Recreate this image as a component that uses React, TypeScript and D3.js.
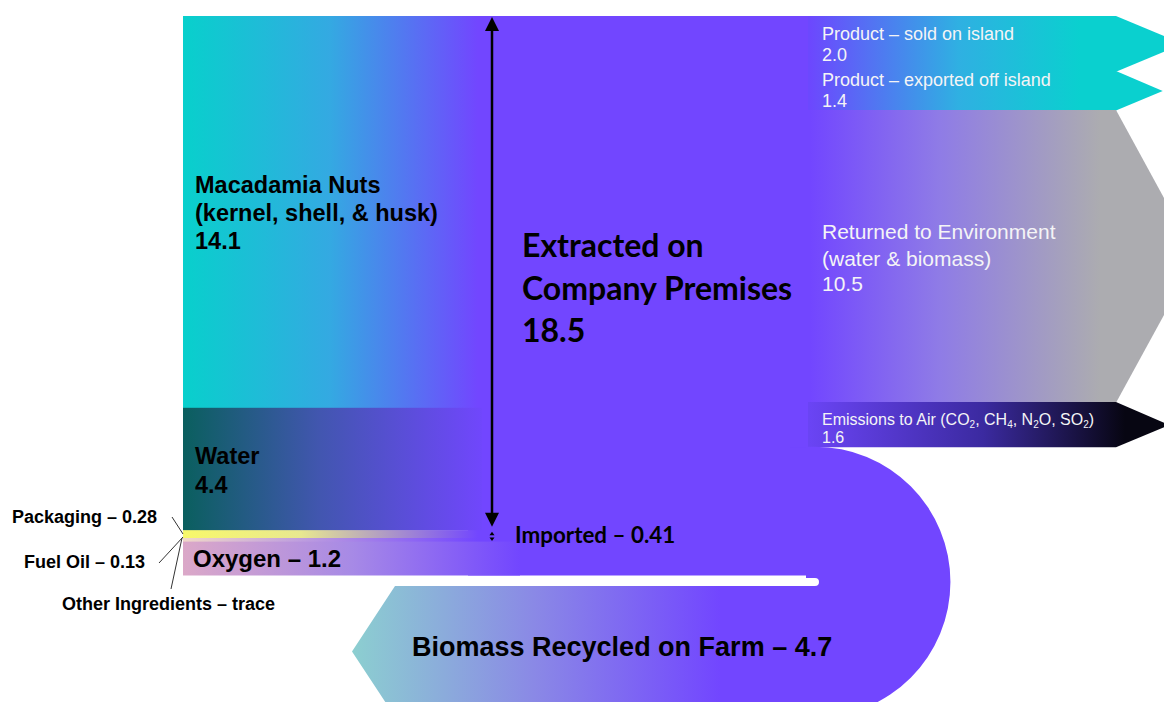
import * as d3 from 'd3';

// input flows (million lb / yr)
const inputLabels = ['Macadamia Nuts', 'Water', 'Packaging', 'Fuel Oil', 'Oxygen'];
const inputValues = [14.1, 4.4, 0.28, 0.13, 1.2];
const extractedTotal = 18.5;
const importedTotal = 0.41;

// output flows
const outputLabels = [
  'Product – sold on island',
  'Product – exported off island',
  'Returned to Environment',
  'Emissions to Air',
  'Biomass Recycled on Farm',
];
const outputValues = [2.0, 1.4, 10.5, 1.6, 4.7];

const W = 1164;
const H = 702;
const PURPLE = '#7246ff';

const inputX0 = 183;
const bodyX0 = 478;
const outX0 = 810;
const shoulderX = 1116;
const gap = 8;

function App() {
  const total = d3.sum(outputValues);
  const y = d3.scaleLinear().domain([0, total]).range([16, 578]);

  const inStarts = d3.cumsum([0, ...inputValues]);
  const outStarts = d3.cumsum([0, ...outputValues]);
  const inBands = inputValues.map((v, i) => ({ label: inputLabels[i], y0: y(inStarts[i]), y1: y(inStarts[i] + v) }));
  const outBands = outputValues.map((v, i) => ({ label: outputLabels[i], y0: y(outStarts[i]), y1: y(outStarts[i] + v) }));

  const arrowPath = (b: { y0: number; y1: number }, i: number) => {
    const h = b.y1 - b.y0;
    const tip = shoulderX + Math.min((h / 2) * 2.4, 80);
    const top = i === 0 ? b.y0 : b.y0 - 0.6;
    const p = d3.path();
    p.moveTo(outX0 - 2, top);
    p.lineTo(shoulderX, top);
    p.lineTo(tip, (b.y0 + b.y1) / 2);
    p.lineTo(shoulderX, b.y1);
    p.lineTo(outX0 - 2, b.y1);
    p.closePath();
    return p.toString();
  };

  // biomass loop
  const bio = outBands[4];
  const bandW = bio.y1 - bio.y0;
  const cy = bio.y1 + gap / 2;
  const cx = 815;
  const rOut = bandW + gap / 2;
  const retTop = cy + gap / 2;
  const retBot = retTop + bandW;
  const bp = d3.path();
  bp.moveTo(outX0 - 4, bio.y0 - 0.6);
  bp.lineTo(cx, bio.y0 - 0.6);
  bp.arc(cx, cy, rOut + 0.6, -Math.PI / 2, Math.PI / 2, false);
  bp.lineTo(395, retBot);
  bp.lineTo(352, (retTop + retBot) / 2);
  bp.lineTo(395, retTop);
  bp.lineTo(cx, retTop);
  bp.arc(cx, cy, gap / 2, Math.PI / 2, -Math.PI / 2, true);
  bp.lineTo(outX0 - 4, bio.y1);
  bp.closePath();

  const arrowX = 492;
  const extTop = y(0);
  const extBot = y(extractedTotal);
  const impBot = y(extractedTotal + importedTotal);

  const inFills = ['url(#gMac)', 'url(#gWater)', 'url(#gPack)', 'url(#gFuel)', 'url(#gOxy)'];
  const outFills = ['url(#gProd)', 'url(#gProd)', 'url(#gRet)', 'url(#gEmi)'];

  const leftFont = '"Liberation Sans", Arial, sans-serif';
  const calFont = 'Lato, "Open Sans", sans-serif';

  return (
    <svg width={W} height={H} style={{ position: 'absolute', left: 0, top: 0, background: '#fff' }}>
      <defs>
        <linearGradient id="gMac" gradientUnits="userSpaceOnUse" x1={inputX0} x2={bodyX0} y1={0} y2={0}>
          <stop offset="0" stopColor="#08d0cc" />
          <stop offset="0.5" stopColor="#34a9e2" />
          <stop offset="1" stopColor={PURPLE} />
        </linearGradient>
        <linearGradient id="gWater" gradientUnits="userSpaceOnUse" x1={inputX0} x2={bodyX0 + 10} y1={0} y2={0}>
          <stop offset="0" stopColor="#0a5f5e" />
          <stop offset="0.45" stopColor="#4256b0" />
          <stop offset="1" stopColor={PURPLE} />
        </linearGradient>
        <linearGradient id="gPack" gradientUnits="userSpaceOnUse" x1={inputX0} x2={bodyX0} y1={0} y2={0}>
          <stop offset="0" stopColor="#f8f86a" />
          <stop offset="0.4" stopColor="#e8e890" />
          <stop offset="1" stopColor={PURPLE} />
        </linearGradient>
        <linearGradient id="gFuel" gradientUnits="userSpaceOnUse" x1={inputX0} x2={bodyX0} y1={0} y2={0}>
          <stop offset="0" stopColor="#f0d8c8" />
          <stop offset="1" stopColor={PURPLE} />
        </linearGradient>
        <linearGradient id="gOxy" gradientUnits="userSpaceOnUse" x1={inputX0} x2={520} y1={0} y2={0}>
          <stop offset="0" stopColor="#dba8c8" />
          <stop offset="0.5" stopColor="#a78ae6" />
          <stop offset="1" stopColor={PURPLE} />
        </linearGradient>
        <linearGradient id="gProd" gradientUnits="userSpaceOnUse" x1={outX0} x2={1080} y1={0} y2={0}>
          <stop offset="0" stopColor="#6c48fe" />
          <stop offset="0.55" stopColor="#2fb0e2" />
          <stop offset="1" stopColor="#0ad0cf" />
        </linearGradient>
        <linearGradient id="gRet" gradientUnits="userSpaceOnUse" x1={outX0} x2={1100} y1={0} y2={0}>
          <stop offset="0" stopColor={PURPLE} />
          <stop offset="0.45" stopColor="#8f7ce6" />
          <stop offset="1" stopColor="#acacb0" />
        </linearGradient>
        <linearGradient id="gEmi" gradientUnits="userSpaceOnUse" x1={outX0} x2={1125} y1={0} y2={0}>
          <stop offset="0" stopColor="#6a44f4" />
          <stop offset="0.55" stopColor="#3b2aa0" />
          <stop offset="1" stopColor="#070612" />
        </linearGradient>
        <linearGradient id="gBio" gradientUnits="userSpaceOnUse" x1={352} x2={720} y1={0} y2={0}>
          <stop offset="0" stopColor="#8ccfd0" />
          <stop offset="0.5" stopColor="#8a88e6" />
          <stop offset="1" stopColor={PURPLE} />
        </linearGradient>
      </defs>

      {/* main body */}
      <rect x={bodyX0 - 10} y={y(0)} width={outX0 - bodyX0 + 12} height={y(d3.sum(inputValues)) - y(0)} fill={PURPLE} />
      <rect x={outX0 - 20} y={y(0)} width={30} height={bio.y0 - y(0)} fill={PURPLE} />

      {/* inputs */}
      {inBands.map((b, i) => (
        <rect
          key={b.label}
          x={inputX0}
          y={i === 0 ? b.y0 : b.y0 - 0.5}
          width={(i === 4 ? 520 : bodyX0 + 4) - inputX0}
          height={b.y1 - b.y0 + (i === 0 ? 0 : 0.5)}
          fill={inFills[i]}
        />
      ))}

      {/* outputs */}
      {outBands.slice(0, 4).map((b, i) => (
        <path key={b.label} d={arrowPath(b, i)} fill={outFills[i]} />
      ))}

      {/* biomass loop */}
      <path d={bp.toString()} fill="url(#gBio)" />

      {/* extracted arrow */}
      <line x1={arrowX} x2={arrowX} y1={extTop + 10} y2={extBot - 10} stroke="#000" strokeWidth={2.5} />
      <path d={`M${arrowX},${extTop + 1}L${arrowX - 7},${extTop + 15}L${arrowX + 7},${extTop + 15}Z`} fill="#000" />
      <path d={`M${arrowX},${extBot - 4}L${arrowX - 7},${extBot - 18}L${arrowX + 7},${extBot - 18}Z`} fill="#000" />
      <path d={`M${arrowX},${extBot + 1}L${arrowX - 2.5},${extBot + 4.5}L${arrowX + 2.5},${extBot + 4.5}Z`} fill="#000" />
      <path d={`M${arrowX},${impBot - 1}L${arrowX - 2.5},${impBot - 4.5}L${arrowX + 2.5},${impBot - 4.5}Z`} fill="#000" />

      {/* left labels */}
      <g fontFamily={leftFont} fontWeight="bold" fill="#000">
        <text x={195} y={193} fontSize={23.5}>Macadamia Nuts</text>
        <text x={195} y={221} fontSize={23.5}>(kernel, shell, &amp; husk)</text>
        <text x={195} y={249} fontSize={23.5}>{inputValues[0].toFixed(1)}</text>
        <text x={195} y={464} fontSize={23.5}>Water</text>
        <text x={195} y={493} fontSize={23.5}>{inputValues[1].toFixed(1)}</text>
        <text x={193} y={567} fontSize={24}>Oxygen – {inputValues[4].toFixed(1)}</text>
        <text x={12} y={523} fontSize={18}>Packaging – {inputValues[2].toFixed(2)}</text>
        <text x={24} y={568} fontSize={18}>Fuel Oil – {inputValues[3].toFixed(2)}</text>
        <text x={62} y={610} fontSize={18}>Other Ingredients – trace</text>
        <text x={412} y={656} fontSize={27}>Biomass Recycled on Farm – {outputValues[4].toFixed(1)}</text>
      </g>
      <g stroke="#333" strokeWidth={1}>
        <line x1={172} y1={517} x2={183} y2={534} />
        <line x1={159} y1={563} x2={183} y2={537} />
        <line x1={171} y1={589} x2={182} y2={538} />
      </g>

      {/* body labels */}
      <g fontFamily={calFont} fontWeight="bold" fill="#000">
        <text x={522} y={257} fontSize={32}>Extracted on</text>
        <text x={522} y={300} fontSize={32}>Company Premises</text>
        <text x={522} y={342} fontSize={32}>{extractedTotal.toFixed(1)}</text>
        <text x={515} y={543} fontSize={22.4}>Imported – {importedTotal.toFixed(2)}</text>
      </g>

      {/* output labels */}
      <g fontFamily={leftFont} fill="#f4f4f6">
        <text x={822} y={40} fontSize={18}>{outputLabels[0]}</text>
        <text x={822} y={61} fontSize={18}>{outputValues[0].toFixed(1)}</text>
        <text x={822} y={86} fontSize={18}>{outputLabels[1]}</text>
        <text x={822} y={107} fontSize={18}>{outputValues[1].toFixed(1)}</text>
        <text x={822} y={239} fontSize={21}>{outputLabels[2]}</text>
        <text x={822} y={266} fontSize={21}>(water &amp; biomass)</text>
        <text x={822} y={291} fontSize={21}>{outputValues[2].toFixed(1)}</text>
        <text x={822} y={425} fontSize={16}>
          {outputLabels[3]} (CO<tspan fontSize={10} dy={3}>2</tspan>
          <tspan dy={-3}>, CH</tspan><tspan fontSize={10} dy={3}>4</tspan>
          <tspan dy={-3}>, N</tspan><tspan fontSize={10} dy={3}>2</tspan>
          <tspan dy={-3}>O, SO</tspan><tspan fontSize={10} dy={3}>2</tspan>
          <tspan dy={-3}>)</tspan>
        </text>
        <text x={822} y={443} fontSize={16}>{outputValues[3].toFixed(1)}</text>
      </g>
    </svg>
  );
}

export default App;
